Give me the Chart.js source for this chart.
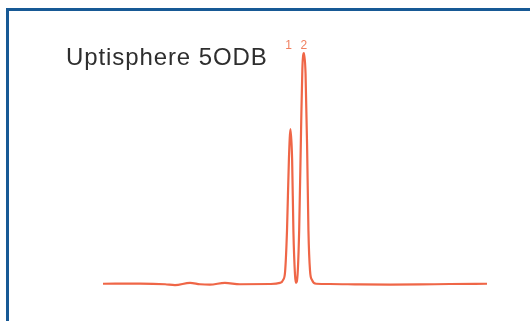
<!DOCTYPE html>
<html>
<head>
<meta charset="utf-8">
<script src="https://cdn.jsdelivr.net/npm/chart.js@4/dist/chart.umd.min.js"></script>
<style>
  html, body { margin: 0; padding: 0; width: 530px; height: 321px; overflow: hidden; background: #fff; }
  #frame { position: absolute; left: 6px; top: 8px; width: 600px; height: 400px; border: 3px solid #175995; box-sizing: border-box; }
  #title { position: absolute; left: 66px; top: 43px; font-family: "Liberation Sans", Arial, sans-serif; font-size: 24px; color: #2e2e2e; letter-spacing: 0.9px; white-space: nowrap; }
  #wrap { position: absolute; left: 0; top: 0; width: 530px; height: 321px; }
</style>
</head>
<body>
<div id="frame"></div>
<div id="wrap"><canvas id="c" width="530" height="321"></canvas></div>
<div id="title">Uptisphere 5ODB</div>
<script>
// Retention time (min) and detector response (relative units)
const times = [0, 1.16, 1.94, 2.25, 2.72, 3.03, 3.34, 3.81, 4.28, 5.22, 5.53, 5.63, 5.69, 5.75, 5.81, 5.86, 5.91, 5.95, 6.0, 6.03, 6.08, 6.13, 6.19, 6.23, 6.28, 6.33, 6.38, 6.42, 6.47, 6.53, 6.66, 7.09, 8.03, 8.97, 9.91, 10.84, 12];
const signal = [0, 0.1, -0.2, -0.6, 0.4, -0.2, -0.4, 0.4, -0.2, -0.1, 0.4, 1.7, 5.2, 23, 54, 67, 54, 23, 3.9, 0.4, 3.9, 23, 67, 93, 100, 91, 58, 23, 5.6, 1.7, 0, -0.1, -0.3, -0.4, -0.3, -0.1, 0];
const peakTimes = [5.86, 6.28];
const peakLabels = ['1', '2'];
const chartTitle = 'Uptisphere 5ODB';

document.getElementById('title').textContent = chartTitle;

const points = times.map((t, i) => ({ x: t, y: signal[i] }));

const peakLabelPlugin = {
  id: 'peakLabels',
  afterDatasetsDraw(chart) {
    const { ctx, scales } = chart;
    const yTop = scales.y.getPixelForValue(Math.max(...signal));
    ctx.save();
    ctx.fillStyle = '#f08060';
    ctx.font = '12px "Liberation Sans", Arial, sans-serif';
    ctx.textAlign = 'center';
    ctx.textBaseline = 'middle';
    peakTimes.forEach((t, i) => {
      const x = scales.x.getPixelForValue(t) - (i === 0 ? 2 : 0);
      ctx.fillText(peakLabels[i], x, yTop - 7);
    });
    ctx.restore();
  }
};

new Chart(document.getElementById('c'), {
  type: 'line',
  data: {
    datasets: [{
      data: points,
      borderColor: '#ef6647',
      borderWidth: 2.2,
      pointRadius: 0,
      fill: false,
      cubicInterpolationMode: 'monotone'
    }]
  },
  options: {
    responsive: false,
    animation: false,
    clip: false,
    layout: { padding: { left: 103, right: 43, top: 53, bottom: 28 } },
    plugins: { legend: { display: false }, tooltip: { enabled: false }, title: { display: false } },
    scales: {
      x: { type: 'linear', min: 0, max: 12, display: false },
      y: { min: -4, max: 100, display: false }
    }
  },
  plugins: [peakLabelPlugin]
});
</script>
</body>
</html>
